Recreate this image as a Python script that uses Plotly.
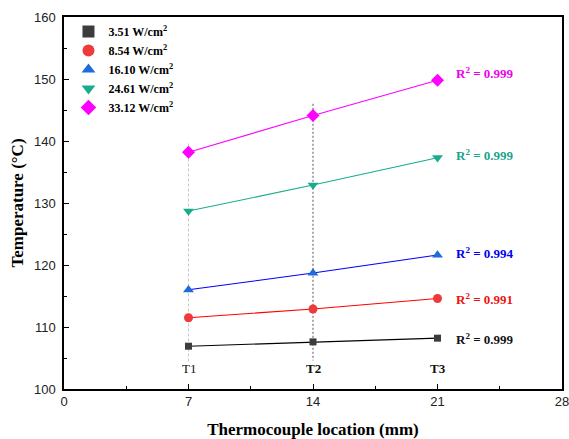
import plotly.graph_objects as go

locations = [7, 14, 21]
series_names = ["3.51 W/cm<sup>2</sup>", "8.54 W/cm<sup>2</sup>", "16.10 W/cm<sup>2</sup>",
                "24.61 W/cm<sup>2</sup>", "33.12 W/cm<sup>2</sup>"]
temp_351 = [106.9, 107.6, 108.2]
temp_854 = [111.5, 112.9, 114.6]
temp_1610 = [116.0, 118.7, 121.6]
temp_2461 = [128.7, 132.9, 137.3]
temp_3312 = [138.2, 144.1, 149.8]
r2_values = ["0.999", "0.991", "0.994", "0.999", "0.999"]
tc_labels = ["T1", "T2", "T3"]

series = [temp_351, temp_854, temp_1610, temp_2461, temp_3312]
line_colors = ["#000000", "#ff0000", "#0000ff", "#1aab8f", "#ff00ff"]
marker_colors = ["#3c3c3c", "#ee3a3a", "#1e6bdc", "#1aab8f", "#ff00ff"]
text_colors = ["#111111", "#ee1111", "#0000ee", "#1aa38c", "#ee00ee"]
symbols = ["square", "circle", "triangle-up", "triangle-down", "diamond"]
sizes = [7, 9, 9.5, 9.5, 10]
r2_y = [108.1, 114.5, 122.0, 137.7, 151.0]

SERIF = "Liberation Serif"
SANS = "Liberation Sans"

fig = go.Figure()

# vertical guide lines
fig.add_trace(go.Scatter(x=[7, 7], y=[139.6, 104.2], mode="lines",
                         line=dict(color="#c8c8c8", width=1, dash="3px,2px"),
                         showlegend=False, hoverinfo="skip"))
fig.add_trace(go.Scatter(x=[14, 14], y=[146.0, 104.6], mode="lines",
                         line=dict(color="#555555", width=1, dash="2px,2px"),
                         showlegend=False, hoverinfo="skip"))

for vals, lc in zip(series, line_colors):
    fig.add_trace(go.Scatter(x=locations, y=vals, mode="lines",
                             line=dict(color=lc, width=1.1),
                             showlegend=False, hoverinfo="skip"))

for name, vals, mc, sym, sz in zip(series_names, series, marker_colors, symbols, sizes):
    fig.add_trace(go.Scatter(x=locations, y=vals, mode="markers", name=name,
                             marker=dict(color=mc, symbol=sym, size=sz,
                                         line=dict(width=0))))

for r2, yy, tc in zip(r2_values, r2_y, text_colors):
    fig.add_annotation(x=21.95, y=yy, xanchor="left", yanchor="middle",
                       text=f"<b>R<sup>2</sup> = {r2}</b>", showarrow=False,
                       font=dict(family=SERIF, size=13, color=tc))

for i, (loc, lab) in enumerate(zip(locations, tc_labels)):
    txt = lab if i == 0 else f"<b>{lab}</b>"
    fig.add_annotation(x=loc, y=103.3, text=txt, showarrow=False,
                       xanchor="center", yanchor="middle",
                       font=dict(family=SERIF, size=13, color="#111111"))

axis_common = dict(showline=True, linecolor="black", linewidth=1.5, mirror=True,
                   ticks="inside", ticklen=5, tickwidth=1, tickcolor="black",
                   showgrid=False, zeroline=False, automargin=False,
                   ticklabeloverflow="allow",
                   tickfont=dict(family=SANS, size=13, color="#222222"))

fig.update_xaxes(range=[0, 28], tickvals=[0, 7, 14, 21, 28],
                 minor=dict(ticks="inside", ticklen=3, tickcolor="black", dtick=3.5, tick0=0),
                 title=dict(text="<b>Thermocouple location (mm)</b>",
                            font=dict(family=SERIF, size=17, color="black"), standoff=15),
                 **axis_common)
fig.update_yaxes(range=[100, 160], tickvals=[100, 110, 120, 130, 140, 150, 160],
                 minor=dict(ticks="inside", ticklen=3, tickcolor="black", dtick=5, tick0=100),
                 ticklabelstandoff=4,
                 title=dict(text="<b>Temperature (°C)</b>",
                            font=dict(family=SERIF, size=17, color="black"), standoff=6),
                 **axis_common)

fig.update_layout(
    width=569, height=439,
    margin=dict(l=64, r=7, t=17, b=50),
    paper_bgcolor="white", plot_bgcolor="white",
    legend=dict(x=0.009, y=1.0, xanchor="left", yanchor="top",
                bgcolor="rgba(0,0,0,0)", borderwidth=0,
                font=dict(family=SERIF, size=12, color="black", weight="bold"),
                tracegroupgap=0, itemsizing="constant"),
    legend_traceorder="normal",
)

fig.write_html("out.html")
